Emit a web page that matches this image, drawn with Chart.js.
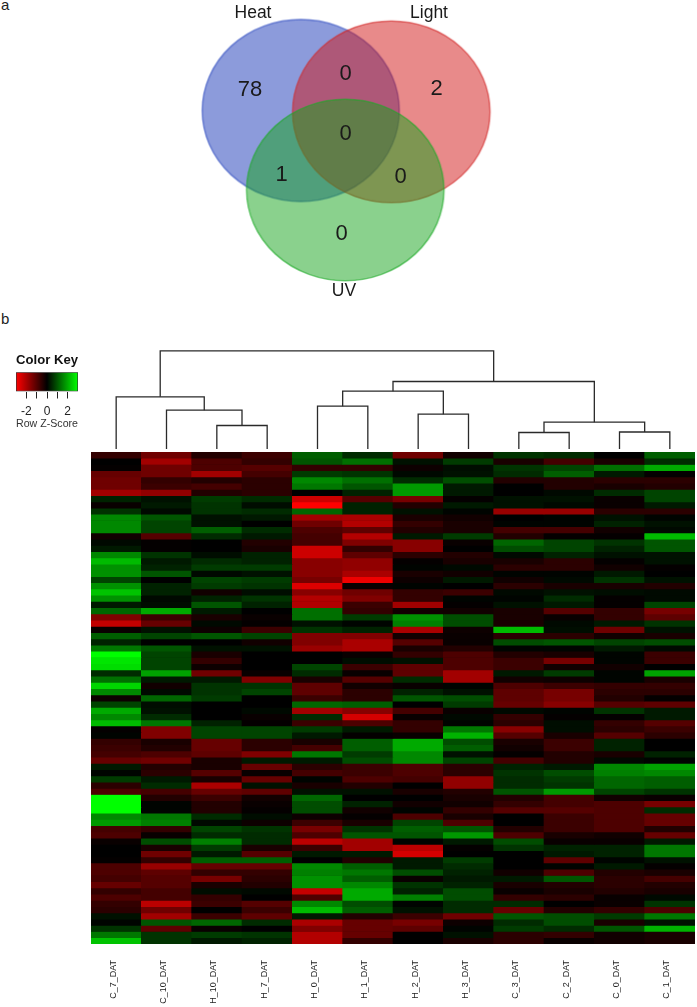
<!DOCTYPE html>
<html>
<head>
<meta charset="utf-8">
<title>Venn and heatmap</title>
<script src="https://cdn.jsdelivr.net/npm/chart.js@4/dist/chart.umd.js"></script>
<style>
  html, body { margin: 0; padding: 0; background: #fff; }
  body { position: relative; width: 697px; height: 1007px; overflow: hidden; font-family: "Liberation Sans", sans-serif; }
  .box { position: absolute; }
  .box canvas { filter: blur(0.35px); }
  .letter { position: absolute; left: 1px; font-size: 15px; line-height: 15px; color: #222; }
</style>
</head>
<body>
<div class="letter" style="top:-3px">a</div>
<div class="letter" style="top:311px">b</div>
<div class="box" style="left:0;top:0;width:697px;height:305px"><canvas id="vennChart"></canvas></div>
<div class="box" style="left:0;top:352px;width:95px;height:79px"><canvas id="keyChart"></canvas></div>
<div class="box" style="left:91px;top:340px;width:604px;height:109px"><canvas id="dendroChart"></canvas></div>
<div class="box" style="left:0;top:452px;width:697px;height:555px"><canvas id="heatChart"></canvas></div>
<script>
// Venn: set names and counts per region
const setNames = ['Heat', 'Light', 'UV'];
const regionCounts = [78, 2, 0, 0, 0, 1, 0];

// Heatmap columns, order left to right
const sampleLabels = ['C_7_DAT', 'C_10_DAT', 'H_10_DAT', 'H_7_DAT', 'H_0_DAT', 'H_1_DAT',
  'H_2_DAT', 'H_3_DAT', 'C_3_DAT', 'C_2_DAT', 'C_0_DAT', 'C_1_DAT'];

// Row z-scores, one list per column (79 genes)
const zC7 = [-.6,0,-.05,-1.2,-1.3,-1.3,-1.9,.4,-.1,.6,
  1.6,1.6,1.6,-.2,.1,.3,1.6,2.2,1.7,1.7,
  .8,1.7,2.3,1.7,.3,1.2,-1.5,-2.3,-.1,1.1,
  .4,1.4,3,2.7,2.6,.5,1.3,2.5,1.6,-.15,
  .8,2,1.6,2.2,-.05,.05,-.6,-.7,-.8,-1.2,
  .3,.05,.7,-.5,-.9,3,3,3,1.6,1.8,
  -.8,-.9,-.1,0,0,-.05,-.9,-.9,-.8,-1.2,
  -.6,-.9,-.6,-.5,.2,.05,.6,1.4,2.3];
const zC10 = [-1.3,-1.9,-1.3,-1.3,-.6,-.7,-1.7,.2,.3,.1,
  1,.8,.8,-1,-.05,-.05,.6,.3,.4,1,
  0,.4,.4,.1,.15,2,-.7,-1.2,.2,.8,
  0,1,.8,.8,.8,1.9,.3,-.2,.1,1.2,
  .15,.2,.5,1.4,-1.5,-1.5,-.3,-.4,-.9,-1.3,
  -.4,-.5,.3,.5,-.8,-.4,.05,.05,1.4,1.5,
  -.6,-.1,.9,-.3,-1.3,-.6,-1.8,-1.1,-1,-1,
  -.8,-.8,-2.2,-1.3,-1.9,1,-1.1,.6,.6];
const zH10 = [-.4,-.9,-.9,-1.9,-.4,-.8,-.4,.7,.6,.6,
  .2,.2,1.1,.5,0,0,.15,.5,.7,.1,
  .8,.7,-.2,.4,1,.3,-.3,.1,-.15,1,
  0,.2,-.3,-.6,-.15,-1.3,.3,.6,.6,.7,
  0,0,0,.4,.8,.8,-1.2,-1.2,-1.1,-.3,
  -.3,-1,-.3,-2,-1.2,-.7,-.4,-.4,.5,.1,
  .8,.5,1.5,.7,.3,1.1,-1.2,-.6,-1.4,-.3,
  .15,-.6,-.7,0,-.7,1.2,-.1,.7,.3];
const zH7 = [-.7,-.6,-1,-.8,-.5,-.5,-.5,.5,.15,.5,
  .3,0,.5,.3,-.4,-.3,.4,.4,.7,.2,
  .7,.6,.15,.6,.4,0,-.1,-.05,-.7,.8,
  -.2,.2,0,0,0,-.1,-1.5,.6,.8,0,
  0,.1,-.1,-.05,.8,.8,-.5,-.5,-1.5,.3,
  -1.2,-.1,-1.2,.2,-1.1,-.2,-.1,-.05,.15,-.15,
  .6,.5,.5,-.3,-1,1.1,-1.2,-.6,-.5,-.4,
  .1,0,-1,-.7,-1.1,.5,0,.6,.4];
const zH0 = [1.1,1,-.6,.7,1.6,1.4,0,-2.4,-3,1.2,
  -1.9,-1.3,-.9,-.8,-.8,-2.4,-2.4,-1.6,-1.6,-1.6,
  -1.4,-2.6,-1.6,-2.1,-2.1,1.3,1.3,.2,.6,-1.5,
  -1.5,-1.8,0,0,.8,.5,-.3,-1.1,-1.1,-.7,
  1.2,-1.9,.5,-.7,.7,.3,-.3,-.8,1.4,.3,
  -.5,-.8,.05,-.3,.2,1.2,.9,.9,-.15,-.7,
  -1.4,-.9,-2.2,-.7,.3,0,1.6,1.5,1.7,1.7,
  -2.3,-.9,1.6,2.2,.3,-2,-1.5,-2.1,-2.1];
const zH1 = [.5,1.3,-.6,.6,1.3,1,.4,-1,.4,.4,
  -2,-2.1,-1.1,-2.1,-1.5,-.6,-1.1,-1.7,-1.7,-2,
  -2.8,-.1,-1.3,-1.5,-.7,-.6,.7,.05,.4,-1.5,
  -2,-2,-.1,.15,-.7,-.1,-1,-.2,-.5,-.5,
  1.1,-1.6,-2.5,-.9,.3,-.05,1.1,1.1,.7,.9,
  -.7,-.7,-.9,-.4,.2,0,.4,-.2,-.05,-.3,
  .6,1,-1.9,-1.9,.3,-.4,1.1,1.4,1.1,1.6,
  2,2,.9,1.1,-.4,-1.2,-1.2,-1.2,-.6];
const zH2 = [-1.3,.2,-.15,.1,.5,1.8,1.8,-1.4,-.4,.2,
  -.3,-.6,-.4,.3,-1.6,-1.6,-.5,-.05,.05,-.3,
  -.15,.05,-.6,-.6,-1.9,-.2,1.7,1.5,-2,-.2,
  -1,-.3,-.6,.2,-1.1,-1.1,.5,-.1,.4,1,
  0,-.8,-.1,-.6,-.6,-.1,2,2,1.6,1.6,
  -.9,-.9,-.8,0,-.3,0,-.2,.05,-.9,.8,
  1.1,1,.05,-2.2,-2.5,.3,.3,.9,-.1,.6,
  .4,1.5,.05,.2,-.7,-1.4,-1.1,0,0];
const zH3 = [-.2,.7,.15,.2,.9,.3,.3,-.05,.3,.05,
  -.2,-.3,-.3,.7,-.1,0,-.4,-.3,.1,-.2,
  .3,0,-.7,.05,-.05,-.2,.9,.9,-.15,-.1,
  -.1,-.4,-.9,-.9,-.9,-1.9,-1.9,.05,.2,.9,
  .7,-.1,.1,.05,1.4,2.1,.9,1.1,.2,.8,
  -.5,-.5,-1.7,-1.7,-.4,-.3,-.2,-.6,-.3,-.9,
  1,1.8,.3,-.05,0,.7,.5,.4,.3,.4,
  .9,.9,.5,.5,-1.3,-.15,.05,.2,-.3];
const zC3 = [.6,-.3,.6,.5,-.4,0,0,.2,.2,-1.8,
  0,.05,-.8,-.4,1.2,.9,.1,-.3,-.5,.05,
  -.2,-.5,.1,.05,.2,-.3,-.3,-.3,2.2,-.5,
  .9,.05,-.4,-.7,-.7,.3,-.2,-.9,-1.1,-1.1,
  -1.2,.1,-.6,-.5,-1.6,-1,-.3,-.2,-.05,-.8,
  .4,.6,.5,.5,1,-.4,-.6,-1,0,0,
  -.4,-.9,.9,.6,0,0,0,-.2,.3,-.3,
  -.1,-.6,.5,-1.2,1,.5,.7,-.5,-.5];
const zC2 = [.5,-.8,.8,1.1,-.4,-.4,.1,.2,.1,-1.8,
  .05,.05,-.8,-.05,.8,.8,.4,-.5,-.5,.05,
  .1,-.3,.2,.5,.3,-1,-.1,.1,.15,-.5,
  1,.05,-.3,-1.4,-.2,.7,-.15,-.7,-1.4,-1.4,
  -1.6,.05,-.05,.15,.15,-.3,-.7,-.7,-.4,-.4,
  .3,.9,.7,.6,1.8,-.8,-.8,-1,-.7,-.7,
  -.7,-.3,-.1,.4,.3,-1.1,.05,-.9,1,-.4,
  -.3,-.5,0,-.4,.9,.9,.5,-.6,-.1];
const zC0 = [0,-.3,1.3,.3,-.5,-.3,.5,-.1,-.1,-.5,
  .2,.4,-.2,-.05,.6,.4,.2,-.05,-.2,.3,
  .6,-.3,.15,-.05,-.05,-.6,-.6,.3,-1.3,-.2,
  .8,.3,.05,.05,-.2,.05,.05,-.6,-.5,-.4,
  -1,.6,-.05,-.6,-.5,-1,.4,.4,-.3,.1,
  1.6,1.5,1.2,1.2,.8,-.2,-.9,-.9,-.9,-.9,
  -.9,-.2,-.1,.4,.4,.05,.3,-.4,-.5,-.5,
  -.4,-.1,-.1,-.6,.7,-.3,1,-.2,-.2];
const zC1 = [1.1,.5,2,-.05,-.5,-.4,.8,.8,.3,-.5,
  .05,.2,.1,2.2,1,1,.2,.2,-.05,0,
  .2,-.4,.1,.1,.8,-1.4,-1.1,.6,.2,-.3,
  .9,.1,-.7,-.7,0,1.9,-.3,-.6,-.5,-.05,
  -1.1,.3,.3,-1,-.7,-.5,0,0,.4,.05,
  1.9,1.6,1.1,1.1,.6,-.1,-1.4,.5,-1.2,-1.2,
  -.4,-1.2,.3,1.4,1.4,.2,-.05,-.3,-.8,-.4,
  -.3,.1,.6,-.9,1.4,.2,2.1,-.3,-.3];
const heatColumns = [zC7, zC10, zH10, zH7, zH0, zH1, zH2, zH3, zC3, zC2, zC0, zC1];

// Column dendrogram, hclust style: negative = leaf column, positive = earlier merge
const mergeLeft = [-3, -2, -1, -5, -7, 4, -9, -11, 7, 6, 3];
const mergeRight = [-4, 1, 2, -6, -8, 5, -10, -12, 8, 9, 10];
const mergeHeight = [23.5, 38.8, 52.2, 42.8, 34.8, 57.8, 16.5, 17, 26.8, 67.5, 98.2];

// Color key ticks
const keyTicks = [-2, -1, 0, 1, 2];

Chart.defaults.font.family = '"Liberation Sans", sans-serif';
Chart.defaults.animation = false;
Chart.defaults.responsive = true;
Chart.defaults.maintainAspectRatio = false;
Chart.defaults.plugins.legend.display = false;
Chart.defaults.plugins.tooltip.enabled = false;

// ---- Venn ----
const vennCircles = [
  { x: 300.8, y: 110.5, rx: 98.5, ry: 91, fill: 'rgba(25,55,183,0.5)', line: 'rgba(40,70,190,0.6)' },
  { x: 391.3, y: 111.8, rx: 98.7, ry: 90.8, fill: 'rgba(209,21,21,0.5)', line: 'rgba(210,40,40,0.6)' },
  { x: 345.3, y: 190, rx: 98.7, ry: 90.7, fill: 'rgba(21,163,27,0.5)', line: 'rgba(30,170,40,0.6)' }
];
const setLabelPos = [{ x: 253, y: 13 }, { x: 429, y: 13 }, { x: 344, y: 291 }];
const regionPos = [{ x: 250, y: 90 }, { x: 436.7, y: 89 }, { x: 345.7, y: 74 }, { x: 345.7, y: 134 },
  { x: 400.7, y: 176.7 }, { x: 281.7, y: 175 }, { x: 341.7, y: 234 }];

// chart.js only has round points, so the ellipses go in as canvas point styles
function ellipseSprite(c) {
  const el = document.createElement('canvas');
  el.width = Math.ceil(c.rx * 2 + 4);
  el.height = Math.ceil(c.ry * 2 + 4);
  const g = el.getContext('2d');
  g.beginPath();
  g.ellipse(el.width / 2, el.height / 2, c.rx, c.ry, 0, 0, Math.PI * 2);
  g.fillStyle = c.fill;
  g.fill();
  g.lineWidth = 1.5;
  g.strokeStyle = c.line;
  g.stroke();
  return el;
}

new Chart(document.getElementById('vennChart'), {
  type: 'scatter',
  data: {
    datasets: vennCircles.map((c, i) => ({
      data: [{ x: c.x, y: c.y }],
      pointStyle: ellipseSprite(c),
      pointRadius: 10,
      order: 3 - i, // UV on top
      clip: false
    }))
  },
  options: {
    layout: { padding: 0, autoPadding: false },
    scales: {
      x: { display: false, min: 0, max: 697 },
      y: { display: false, min: 0, max: 305, reverse: true }
    }
  },
  plugins: [{
    id: 'vennLabels',
    afterDatasetsDraw(chart) {
      const { ctx, scales } = chart;
      ctx.save();
      ctx.fillStyle = '#1a1a1a';
      ctx.textAlign = 'center';
      ctx.textBaseline = 'middle';
      ctx.font = '17.5px "Liberation Sans"';
      setNames.forEach((name, i) => {
        ctx.fillText(name, scales.x.getPixelForValue(setLabelPos[i].x), scales.y.getPixelForValue(setLabelPos[i].y));
      });
      ctx.font = '22px "Liberation Sans"';
      regionCounts.forEach((n, i) => {
        ctx.fillText(String(n), scales.x.getPixelForValue(regionPos[i].x), scales.y.getPixelForValue(regionPos[i].y));
      });
      ctx.restore();
    }
  }]
});

// ---- Color key ----
new Chart(document.getElementById('keyChart'), {
  type: 'bar',
  data: {
    labels: ['key'],
    datasets: [{
      data: [[-3, 3]],
      barPercentage: 1,
      categoryPercentage: 1,
      borderWidth: 1,
      borderColor: '#333',
      borderSkipped: false,
      backgroundColor(c) {
        const { chart } = c;
        if (!chart.chartArea) return '#000';
        const x = chart.scales.x;
        const grad = chart.ctx.createLinearGradient(x.getPixelForValue(-3), 0, x.getPixelForValue(3), 0);
        grad.addColorStop(0, '#ff0000');
        grad.addColorStop(0.5, '#000000');
        grad.addColorStop(1, '#00ff00');
        return grad;
      }
    }]
  },
  options: {
    indexAxis: 'y',
    layout: { padding: { left: 16, right: 17, top: 0, bottom: 0 }, autoPadding: false },
    plugins: {
      title: {
        display: true,
        text: 'Color Key',
        color: '#111',
        font: { size: 13.5, weight: 'bold' },
        padding: { top: 0, bottom: 4 }
      }
    },
    scales: {
      y: { display: false },
      x: {
        min: -3,
        max: 3,
        afterBuildTicks(axis) { axis.ticks = keyTicks.map(v => ({ value: v })); },
        grid: { drawOnChartArea: false, tickLength: 7, tickColor: '#222', tickWidth: 1 },
        border: { display: false },
        ticks: {
          padding: 6,
          maxRotation: 0,
          color: '#222',
          font: { size: 12 },
          callback: v => (v % 2 === 0 ? String(v) : '')
        },
        title: {
          display: true,
          text: 'Row Z-Score',
          color: '#333',
          font: { size: 11 },
          padding: { top: 8, bottom: 0 }
        }
      }
    }
  }
});

// ---- Dendrogram ----
// column position of a node: mean of its two children
function nodeX(id) {
  if (id < 0) return -id - 0.5;
  return (nodeX(mergeLeft[id - 1]) + nodeX(mergeRight[id - 1])) / 2;
}
function nodeH(id) {
  return id < 0 ? 0 : mergeHeight[id - 1];
}

new Chart(document.getElementById('dendroChart'), {
  type: 'scatter',
  data: {
    datasets: mergeHeight.map((h, i) => ({
      data: [
        { x: nodeX(mergeLeft[i]), y: nodeH(mergeLeft[i]) },
        { x: nodeX(mergeLeft[i]), y: h },
        { x: nodeX(mergeRight[i]), y: h },
        { x: nodeX(mergeRight[i]), y: nodeH(mergeRight[i]) }
      ],
      showLine: true,
      borderColor: '#2a2a2a',
      borderWidth: 1.3,
      pointRadius: 0,
      tension: 0,
      clip: false
    }))
  },
  options: {
    layout: { padding: 0, autoPadding: false },
    scales: {
      x: { display: false, min: 0, max: 12 },
      y: { display: false, min: 0, max: 109 }
    }
  }
});

// ---- Heatmap ----
// green for high, red for low, black at zero, same as the key
function zColor(z) {
  const level = Math.round(Math.min(Math.abs(z) / 3, 1) * 255);
  return z > 0 ? `rgb(0,${level},0)` : `rgb(${level},0,0)`;
}

const rowCount = zC7.length;
const rowDatasets = [];
for (let r = 0; r < rowCount; r++) {
  rowDatasets.push({
    data: heatColumns.map(() => 1), // every row is one unit tall
    backgroundColor: heatColumns.map(col => zColor(col[r])),
    borderWidth: 0,
    barPercentage: 1,
    categoryPercentage: 1
  });
}

new Chart(document.getElementById('heatChart'), {
  type: 'bar',
  data: { labels: sampleLabels, datasets: rowDatasets },
  options: {
    layout: { padding: { left: 91, right: 2, top: 0, bottom: 0 }, autoPadding: false },
    scales: {
      x: {
        stacked: true,
        afterFit(axis) { axis.height = 63; },
        grid: { display: false },
        border: { display: false },
        ticks: {
          autoSkip: false,
          minRotation: 90,
          maxRotation: 90,
          padding: 8,
          labelOffset: -3,
          color: '#222',
          font: { size: 9 }
        }
      },
      y: { display: false, stacked: true, min: 0, max: rowCount, reverse: true }
    }
  },
  plugins: [{
    id: 'heatBack',
    beforeDatasetsDraw(chart) {
      // black behind the cells so sub-pixel row edges do not show white
      const { ctx, chartArea: a } = chart;
      ctx.save();
      ctx.fillStyle = '#000';
      ctx.fillRect(a.left, a.top, a.width, a.height);
      ctx.restore();
    }
  }]
});
</script>
</body>
</html>
